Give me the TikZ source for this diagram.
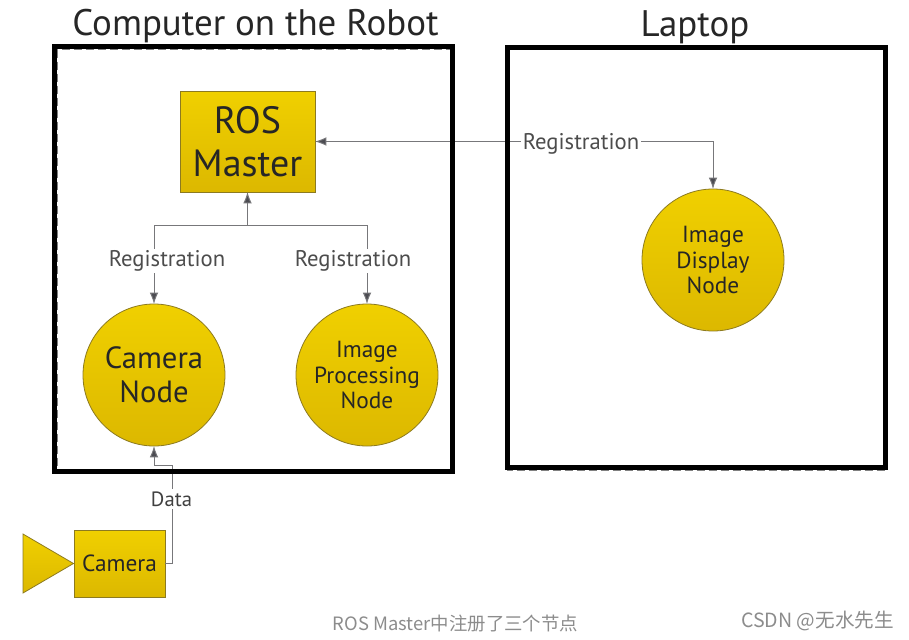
\documentclass[tikz,border=0pt]{standalone}
\usepackage{fontspec}
\setmainfont{PT Sans}
\newfontfamily\cjk{Noto Sans CJK SC}
\usetikzlibrary{arrows.meta,calc}
\definecolor{rosgold}{HTML}{F0D000}
\definecolor{rosdark}{HTML}{DCB800}
\definecolor{rosedge}{HTML}{8C7A20}
\definecolor{linkgray}{HTML}{77777A}
\definecolor{tipgray}{HTML}{4C4C52}
\tikzset{%
  >={Latex[width=6.5pt,length=8.5pt,fill=tipgray]},
  % Specifications for style of nodes:
           gold/.style = {draw=rosedge, line width=0.6pt, top color=rosgold, bottom color=rosdark,
                          text=black!85, align=center, inner sep=0pt, outer sep=0pt},
         master/.style = {gold, rectangle, minimum width=101.25pt, minimum height=75.75pt,
                          font=\fontsize{28.5}{32.5}\selectfont},
       camerabox/.style = {gold, rectangle, minimum width=68.25pt, minimum height=50.25pt,
                          font=\fontsize{17.5}{20}\selectfont},
        bignode/.style = {gold, circle, minimum size=106.5pt,
                          font=\fontsize{23}{25.5}\selectfont},
      smallnode/.style = {gold, circle, minimum size=106.5pt,
                          font=\fontsize{17.5}{19.2}\selectfont},
          frame/.style = {draw=black, line width=3.75pt, rectangle, inner sep=0pt, outer sep=0pt},
       dashrule/.style = {draw=black!50, line width=0.8pt, dash pattern=on 6pt off 3pt},
          title/.style = {font=\fontsize{27.7}{30}\selectfont, text=black!85, inner sep=0pt},
      linklabel/.style = {fill=white, font=\fontsize{17}{20}\selectfont, text=black!70,
                          inner sep=1pt},
      datalabel/.style = {fill=white, font=\fontsize{15.5}{18}\selectfont, text=black!75,
                          inner sep=2pt},
        caption/.style = {font=\cjk\fontsize{13.8}{16}\selectfont, text=black!45, inner sep=0pt},
      watermark/.style = {font=\cjk\fontsize{14.7}{17}\selectfont, text=black!45, inner sep=0pt},
  link/.style = {draw=linkgray, line width=0.75pt},
}
\begin{document}
\begin{tikzpicture}[x=0.75pt, y=-0.75pt]
  \useasboundingbox (0,0) rectangle (909,639);

  \node (master)   [master]    at (247.5,141.5) {ROS\\Master};
  \node (camnode)  [bignode]   at (154,375)     {Camera\\Node};
  \node (procnode) [smallnode] at (367,375)     {Image\\Processing\\Node};
  \node (dispnode) [smallnode] at (713,260)     {Image\\Display\\Node};
  \node (camera)   [camerabox] at (119.5,563.5) {Camera};

  \draw[gold] (23,534) -- (73.5,563.5) -- (23,593) -- cycle;

  \coordinate (joint) at (247.5,225);
  \coordinate (bend)  at (172,465);

  \draw[link, ->] (joint) -- (master.south);
  \draw[link, ->] (joint) -| (camnode.north);
  \draw[link, ->] (joint) -| (procnode.north);
  \draw[link, <->] (master.east) -| (dispnode.north);
  \draw[link, ->] (camera.east) -| (bend) -| (camnode.south);

  % dashes peeping out from under the frames
  \draw[dashrule] (57,49.5) rectangle (452,471);
  \draw[dashrule] (508,47) rectangle (885,470.5);

  \node (robotbox)  [frame, minimum width=298.5pt,  minimum height=318.75pt] at (253.5,258.5) {};
  \node (laptopbox) [frame, minimum width=283.5pt, minimum height=315pt]    at (696.5,257.5) {};

  \node (robottitle)  [title] at (255.5,26) {Computer on the Robot};
  \node (laptoptitle) [title] at (695,27)   {Laptop};

  \node (regcam)  [linklabel] at (167,261)   {Registration};
  \node (regproc) [linklabel] at (353,261)   {Registration};
  \node (regdisp) [linklabel] at (581,143.5) {Registration};
  \node (data)    [datalabel] at (171.5,499) {Data};

  \node (figcaption) [caption]   at (455.5,623.5) {ROS Master中注册了三个节点};
  \node (csdnmark)   [watermark] at (817.5,620.5) {CSDN @无水先生};
\end{tikzpicture}
\end{document}
